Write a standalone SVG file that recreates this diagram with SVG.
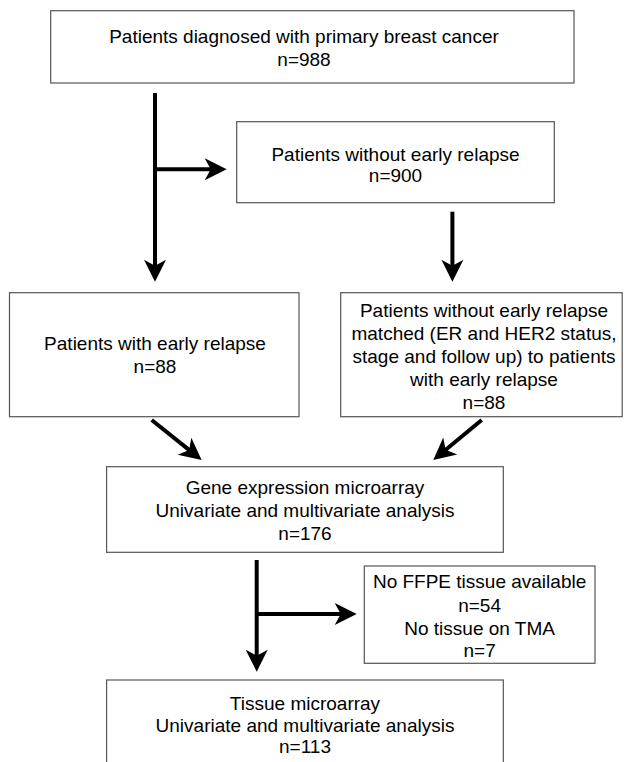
<svg xmlns="http://www.w3.org/2000/svg" width="624" height="762" viewBox="0 0 624 762">
<style>
.box{fill:#fff;stroke:#555;stroke-width:1.2}
.t{font-family:"Liberation Sans",Arial,sans-serif;font-size:19px;fill:#000;text-anchor:middle}
.c{fill:none;stroke:#000;stroke-width:4}
</style>
<defs>
<marker id="ah" markerUnits="userSpaceOnUse" viewBox="-10 -12 24 24" refX="0" refY="0" markerWidth="24" markerHeight="24" orient="auto" overflow="visible">
<path d="M13,0 L-9,-11 L-3,0 L-9,11 Z" fill="#000"/>
</marker>
</defs>
<rect width="624" height="762" fill="#fff"/>
<g id="connectors">
<line class="c" x1="155" y1="93" x2="155" y2="268.7" marker-end="url(#ah)"/>
<line class="c" x1="155" y1="169.3" x2="213.7" y2="169.3" marker-end="url(#ah)"/>
<line class="c" x1="452.4" y1="211.7" x2="452.4" y2="268.7" marker-end="url(#ah)"/>
<line class="c" x1="151.7" y1="420" x2="191.5" y2="451.9" marker-end="url(#ah)"/>
<line class="c" x1="481.7" y1="420" x2="443.3" y2="451.7" marker-end="url(#ah)"/>
<line class="c" x1="256.7" y1="560" x2="256.7" y2="658.7" marker-end="url(#ah)"/>
<line class="c" x1="256.7" y1="614" x2="343.7" y2="614" marker-end="url(#ah)"/>
</g>
<g id="n1">
<rect class="box" x="50.7" y="10.7" width="523.3" height="72.3"/>
<text class="t" x="304" y="42.7">Patients diagnosed with primary breast cancer</text>
<text class="t" x="304" y="65.7">n=988</text>
</g>
<g id="n2">
<rect class="box" x="236.7" y="121.7" width="317.6" height="81"/>
<text class="t" x="395.5" y="161">Patients without early relapse</text>
<text class="t" x="395.5" y="182">n=900</text>
</g>
<g id="n3">
<rect class="box" x="9.5" y="292.7" width="289.5" height="124"/>
<text class="t" x="155" y="350">Patients with early relapse</text>
<text class="t" x="155" y="373.3">n=88</text>
</g>
<g id="n4">
<rect class="box" x="340.7" y="292.7" width="281.5" height="124"/>
<text class="t" x="484" y="317">Patients without early relapse</text>
<text class="t" x="484" y="340">matched (ER and HER2 status,</text>
<text class="t" x="484" y="363">stage and follow up) to patients</text>
<text class="t" x="484" y="386">with early relapse</text>
<text class="t" x="484" y="409">n=88</text>
</g>
<g id="n5">
<rect class="box" x="106.6" y="466.7" width="396.7" height="85.6"/>
<text class="t" x="305" y="494">Gene expression microarray</text>
<text class="t" x="305" y="517">Univariate and multivariate analysis</text>
<text class="t" x="305" y="540">n=176</text>
</g>
<g id="n6">
<rect class="box" x="364.3" y="566" width="230.7" height="97.3"/>
<text class="t" x="479.6" y="588.3">No FFPE tissue available</text>
<text class="t" x="479.6" y="611.7">n=54</text>
<text class="t" x="479.6" y="635">No tissue on TMA</text>
<text class="t" x="479.6" y="656.7">n=7</text>
</g>
<g id="n7">
<rect class="box" x="106.6" y="680" width="396.7" height="100"/>
<text class="t" x="305" y="709.5">Tissue microarray</text>
<text class="t" x="305" y="731.5">Univariate and multivariate analysis</text>
<text class="t" x="305" y="752.5">n=113</text>
</g>
</svg>
